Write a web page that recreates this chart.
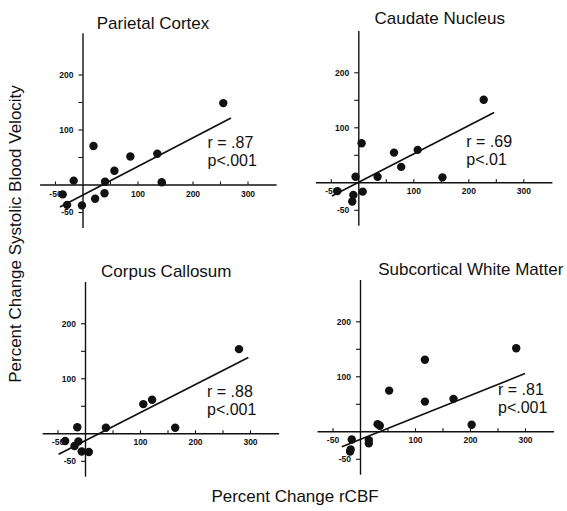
<!DOCTYPE html>
<html>
<head>
<meta charset="utf-8">
<script src="https://cdn.jsdelivr.net/npm/d3@7"></script>
<style>
  body { margin: 0; background: #fff; }
  svg { display: block; }
</style>
</head>
<body>
<div id="container"></div>
<script>
// Data (percent change rCBF vs systolic velocity)
const parietalX = [-36, -28, -16, -1, 20, 23, 40, 41, 58, 87, 136, 144, 256];
const parietalY = [-18, -37, 7, -38, 70, -26, -16, 5, 25, 51, 56, 4, 148];
const parietalFitX = [-41, 270];
const parietalFitY = [-41, 121];

const caudateX = [-38, -9, -11, -5, 6, 8, 35, 65, 78, 108, 153, 228];
const caudateY = [-16, -23, -35, 10, 71, -17, 10, 54, 28, 59, 9, 150];
const caudateFitX = [-48, 247];
const caudateFitY = [-25, 127];

const callosumX = [-36, -19, -14, -12, -6, 7, 38, 106, 122, 164, 280];
const callosumY = [-14, -23, 11, -15, -33, -34, 10, 53, 61, 10, 153];
const callosumFitX = [-48, 297];
const callosumFitY = [-38, 138];

const whiteX = [-15, -17, -18, 16, 16, 32, 36, 53, 118, 118, 170, 203, 284];
const whiteY = [-15, -33, -37, -16, -22, 13, 10, 74, 130, 54, 59, 12, 151];
const whiteFitX = [-33, 300];
const whiteFitY = [-28, 105];

const titles = ['Parietal Cortex', 'Caudate Nucleus', 'Corpus Callosum', 'Subcortical White Matter'];
const rLabels = ['r = .87', 'r = .69', 'r = .88', 'r = .81'];
const pLabels = ['p<.001', 'p<.01', 'p<.001', 'p<.001'];

const xTicks = [-50, 50, 100, 150, 200, 250, 300];
const xTickLabels = [-50, 100, 200, 300];
const yTicks = [-50, 50, 100, 150, 200];
const yTickLabels = [-50, 100, 200];

const xDomain = [-78, 352];
const yDomain = [-78, 276];

// Layout
const svgWidth = 567;
const svgHeight = 511;
const pxPerUnit = 0.55;
const fontFamily = '"Liberation Sans", Arial, sans-serif';

const panels = [
  { xs: parietalX, ys: parietalY, fx: parietalFitX, fy: parietalFitY,
    ox: 82.5, oy: 184.5, title: [70.5, -156], note: [125, -37] },
  { xs: caudateX, ys: caudateY, fx: caudateFitX, fy: caudateFitY,
    ox: 358.3, oy: 182.3, title: [81.4, -158.3], note: [108, -35] },
  { xs: callosumX, ys: callosumY, fx: callosumFitX, fy: callosumFitY,
    ox: 85, oy: 433.3, title: [81.3, -156.6], note: [122, -36] },
  { xs: whiteX, ys: whiteY, fx: whiteFitX, fy: whiteFitY,
    ox: 360, oy: 431.3, title: [110.8, -156.3], note: [138, -36] }
];

// SVG
const svg = d3
  .select('#container')
  .append('svg')
  .attr('width', svgWidth)
  .attr('height', svgHeight)
  .style('font-family', fontFamily);

panels.forEach((p, i) => {
  const xScale = d3
    .scaleLinear()
    .domain(xDomain)
    .range([p.ox + xDomain[0] * pxPerUnit, p.ox + xDomain[1] * pxPerUnit]);

  const yScale = d3
    .scaleLinear()
    .domain(yDomain)
    .range([p.oy - yDomain[0] * pxPerUnit, p.oy - yDomain[1] * pxPerUnit]);

  const g = svg.append('g').attr('class', 'panel');

  // X-AXIS (through y = 0, ticks pointing up)
  const xAxis = d3
    .axisBottom(xScale)
    .tickValues(xTicks)
    .tickSizeInner(-3)
    .tickSizeOuter(0)
    .tickPadding(6)
    .tickFormat(d => (xTickLabels.includes(d) ? d : ''));

  g.append('g')
    .attr('transform', `translate(0, ${yScale(0)})`)
    .call(xAxis);

  // Y-AXIS (through x = 0)
  const yAxis = d3
    .axisLeft(yScale)
    .tickValues(yTicks)
    .tickSizeInner(4)
    .tickSizeOuter(0)
    .tickPadding(5)
    .tickFormat(d => (yTickLabels.includes(d) ? d : ''));

  g.append('g')
    .attr('transform', `translate(${xScale(0)}, 0)`)
    .call(yAxis);

  g.selectAll('.domain').attr('stroke', '#111').attr('stroke-width', 1.4);
  g.selectAll('.tick line').attr('stroke', '#111').attr('stroke-width', 1.1);
  g.selectAll('.tick text')
    .attr('fill', '#111')
    .style('font-family', fontFamily)
    .style('font-size', '8.5px')
    .style('font-weight', 'bold');

  // Fit line
  g.append('line')
    .attr('x1', xScale(p.fx[0]))
    .attr('y1', yScale(p.fy[0]))
    .attr('x2', xScale(p.fx[1]))
    .attr('y2', yScale(p.fy[1]))
    .attr('stroke', '#111')
    .attr('stroke-width', 1.7);

  // Points
  g.selectAll('circle')
    .data(p.xs)
    .enter()
    .append('circle')
    .attr('cx', d => xScale(d))
    .attr('cy', (d, j) => yScale(p.ys[j]))
    .attr('r', 4.2)
    .attr('fill', '#111');

  // Title
  g.append('text')
    .attr('x', p.ox + p.title[0])
    .attr('y', p.oy + p.title[1])
    .attr('text-anchor', 'middle')
    .style('font-size', '17px')
    .attr('fill', '#111')
    .text(titles[i]);

  // r / p annotation, two separate lines
  g.append('text')
    .attr('x', p.ox + p.note[0])
    .attr('y', p.oy + p.note[1])
    .style('font-size', '16px')
    .attr('fill', '#111')
    .text(rLabels[i]);

  g.append('text')
    .attr('x', p.ox + p.note[0])
    .attr('y', p.oy + p.note[1] + 18)
    .style('font-size', '16px')
    .attr('fill', '#111')
    .text(pLabels[i]);
});

// Shared axis titles
svg
  .append('text')
  .attr('transform', 'translate(21, 234) rotate(-90)')
  .attr('text-anchor', 'middle')
  .style('font-size', '17px')
  .attr('fill', '#111')
  .text('Percent Change Systolic Blood Velocity');

svg
  .append('text')
  .attr('x', 295)
  .attr('y', 502)
  .attr('text-anchor', 'middle')
  .style('font-size', '17px')
  .attr('fill', '#111')
  .text('Percent Change rCBF');
</script>
</body>
</html>
